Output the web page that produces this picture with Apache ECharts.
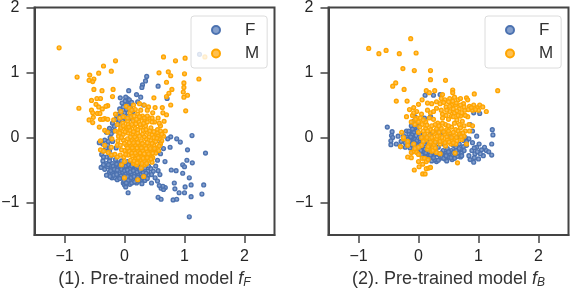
<!DOCTYPE html>
<html><head><meta charset="utf-8">
<script src="https://cdn.jsdelivr.net/npm/echarts@6/dist/echarts.min.js"></script>
<style>html,body{margin:0;padding:0;background:#fff}#c{width:570px;height:290px}</style>
</head><body><div id="c"></div>
<script>
const categories = ['F','M'];
const xTicks = [-1,0,1,2];
const yTicks = [-1,0,1,2];
const titleLeft = '(1). Pre-trained model ';
const titleRight = '(2). Pre-trained model ';

const panel1F = [[0.37,0.94],[0.35,0.87],[0.3,0.81],[0.29,0.77],[0.56,0.79],[0.07,0.72],[0.2,0.66],[-0.07,0.61],[0.05,0.6],[0.02,0.62],[0.08,0.58],[0.27,0.62],[0.71,0.6],[1.25,1.28],[0.22,0.55],[0.32,0.5],[0.04,0.52],[-0.02,0.47],[0.1,0.46],[-0.06,0.4],[-0.1,0.36],[0.0,0.38],[0.14,0.4],[0.06,0.33],[-0.14,0.28],[-0.03,0.3],[0.12,0.29],[-0.2,0.22],[-0.11,0.2],[-0.25,0.14],[-0.18,0.1],[-0.3,0.08],[-0.24,0.0],[-0.33,-0.04],[-0.42,-0.08],[-0.36,-0.1],[-0.28,-0.12],[-0.2,-0.06],[-0.14,-0.16],[-0.25,-0.2],[-0.34,-0.2],[-0.38,-0.26],[-0.3,-0.3],[-0.21,-0.27],[0.01,0.56],[0.06,0.5],[-0.04,0.53],[0.12,0.54],[-0.08,0.44],[0.03,0.43],[0.09,0.41],[-0.13,0.33],[-0.05,0.35],[0.02,0.28],[-0.17,0.17],[-0.09,0.26],[-0.22,0.06],[-0.27,-0.06],[-0.31,-0.16],[-0.24,-0.31],
[1.125,0.03],[0.77,0.01],[0.72,-0.02],[0.87,-0.02],[0.93,-0.07],[0.6,-0.09],[0.65,-0.17],[0.76,-0.15],[1.05,-0.19],[1.35,-0.24],[0.675,-0.37],[1.04,-0.35],[0.97,-0.42],[1.13,-0.39],[1.0,-0.45],[0.78,-0.5],[0.86,-0.51],[0.97,-0.55],[1.08,-0.62],[0.56,-0.51],[0.59,-0.57],[0.83,-0.7],[1.11,-0.73],[1.32,-0.73],[1.01,-0.76],[0.84,-0.79],[0.91,-0.85],[1.0,-0.85],[1.29,-0.87],[1.11,-0.91],[0.68,-0.77],[0.61,-0.78],[0.65,-0.8],[0.56,-0.92],[0.61,-0.95],[0.81,-0.96],[0.87,-0.95],[1.08,-1.22],[0.06,-0.85],[0.51,-0.62],[0.45,-0.7],[0.55,-0.67],[0.64,-0.75],[0.58,-0.74],
[-0.39,-0.46],[-0.33,-0.49],[-0.36,-0.36],[-0.3,-0.4],[-0.25,-0.36],[-0.2,-0.4],[-0.15,-0.34],[-0.1,-0.39],[-0.05,-0.36],[0.0,-0.4],[0.05,-0.37],[0.1,-0.41],[0.15,-0.38],[0.2,-0.42],[0.25,-0.4],[0.3,-0.43],[0.35,-0.39],[0.4,-0.44],[0.44,-0.48],[0.48,-0.52],[-0.28,-0.45],[-0.22,-0.48],[-0.16,-0.44],[-0.11,-0.47],[-0.06,-0.43],[-0.01,-0.47],[0.04,-0.44],[0.09,-0.48],[0.14,-0.45],[0.19,-0.49],[0.24,-0.46],[0.29,-0.5],[0.34,-0.47],[0.39,-0.52],[-0.25,-0.53],[-0.2,-0.55],[-0.14,-0.52],[-0.08,-0.56],[-0.03,-0.53],[0.02,-0.57],[0.07,-0.54],[0.12,-0.58],[0.17,-0.55],[0.23,-0.58],[0.28,-0.56],[0.33,-0.59],[0.4,-0.58],[0.45,-0.57],[-0.21,-0.62],[-0.16,-0.62],[-0.1,-0.6],[-0.12,-0.65],[-0.03,-0.62],[0.03,-0.64],[0.09,-0.61],[0.14,-0.65],[0.2,-0.63],[0.27,-0.65],[0.34,-0.66],[0.38,-0.63],[-0.02,-0.7],[0.0,-0.73],[0.05,-0.69],[0.09,-0.72],[0.02,-0.76],[0.12,-0.7],[0.2,-0.7],[0.29,-0.71],[-0.3,-0.58],[-0.35,-0.3],[0.3,-0.3],[0.45,-0.3],[0.5,-0.2],[0.55,-0.35],[0.52,-0.44],[0.6,-0.25],
[-0.27,-0.42],[-0.19,-0.44],[-0.13,-0.41],[-0.08,-0.44],[-0.03,-0.41],[0.02,-0.44],[0.07,-0.42],[0.12,-0.44],[0.17,-0.42],[0.22,-0.45],[0.27,-0.43],[-0.23,-0.51],[-0.17,-0.49],[-0.12,-0.5],[-0.05,-0.49],[0.0,-0.51],[0.05,-0.5],[0.1,-0.53],[0.15,-0.51],[0.21,-0.53],[0.26,-0.51],[0.31,-0.54],[0.36,-0.55],[-0.18,-0.58],[-0.13,-0.57],[-0.06,-0.59],[0.0,-0.6],[0.05,-0.6],[0.11,-0.62],[0.16,-0.6],[0.22,-0.61],[0.3,-0.62],[-0.08,-0.63],[-0.01,-0.66],[0.06,-0.66],[0.17,-0.68],[0.24,-0.67],[0.03,-0.7],[-0.35,-0.42],[-0.24,-0.6]];

const panel1M = [[-1.09,1.38],[-0.15,1.18],[-0.35,1.1],[-0.58,0.96],[-0.43,0.99],[-0.22,1.02],[-0.79,0.93],[-0.59,0.88],[-0.51,0.9],[-0.53,0.86],[-0.51,0.74],[-0.375,0.72],[-0.19,0.74],[-0.2,0.63],[-0.55,0.57],[-0.46,0.6],[-0.4,0.6],[-0.76,0.45],[-0.475,0.51],[-0.43,0.47],[-0.37,0.44],[-0.28,0.49],[-0.31,0.48],[-0.55,0.42],[-0.53,0.38],[-0.59,0.27],[-0.52,0.31],[-0.53,0.23],[-0.45,0.37],[-0.41,0.37],[-0.4,0.28],[-0.33,0.29],[-0.28,0.28],[-0.42,0.16],[-0.33,0.11],[-0.28,0.08],[-0.21,-0.02],[-0.36,0.28],
[0.65,1.24],[0.85,1.18],[1.01,1.22],[1.34,1.24],[0.575,0.995],[0.73,1.01],[0.77,0.95],[1.0,0.98],[1.24,0.9],[0.99,0.84],[0.7,0.85],[0.99,0.77],[0.98,0.7],[0.79,0.74],[0.74,0.68],[0.7,0.63],[1.05,0.65],[0.99,0.62],[0.77,0.5],[1.02,0.41],[0.49,0.61],[0.25,0.52],[0.33,0.5],[0.4,0.47],[0.51,0.46],[0.38,0.42],[0.63,0.46],[0.64,0.38],[0.7,0.35],[0.47,0.38],[0.15,0.5],[0.03,0.48],[0.08,0.45],[0.18,0.43],[-0.06,0.4],[-0.15,0.36],[-0.18,0.27],[-0.08,0.3],[-0.02,0.32],[0.09,0.38],[0.22,0.36],[0.3,0.33],[0.56,0.3],[0.66,0.25],[0.6,0.18],[0.68,0.1],[0.65,0.02],[0.62,-0.05],[-0.12,0.2],[-0.03,0.22],[0.05,0.25],[0.14,0.26],[0.24,0.24],[0.34,0.26],[0.42,0.3],[0.5,0.24],[0.55,0.12],[-0.15,0.1],[-0.07,0.12],[0.02,0.15],[0.1,0.17],[0.18,0.14],[0.27,0.16],[0.35,0.18],[0.44,0.15],[0.52,0.05],[-0.1,0.02],[-0.02,0.05],[0.06,0.07],[0.14,0.04],[0.22,0.07],[0.3,0.05],[0.38,0.08],[0.46,0.04],[0.58,-0.02],[-0.02,-0.04],[0.05,-0.02],[0.12,-0.05],[0.2,-0.02],[0.28,-0.05],[0.36,-0.02],[0.44,-0.05],[0.52,-0.06],[0.6,-0.1],[0.03,-0.12],[0.1,-0.14],[0.18,-0.11],[0.25,-0.14],[0.33,-0.12],[0.41,-0.14],[0.49,-0.12],[0.55,-0.16],[0.0,-0.2],[0.08,-0.21],[0.15,-0.19],[0.23,-0.22],[0.3,-0.2],[0.38,-0.22],[0.45,-0.2],[0.52,-0.24],[0.13,-0.28],[0.2,-0.27],[0.28,-0.28],[0.35,-0.3],[0.42,-0.27],[0.47,-0.31],[0.18,-0.33],[0.26,-0.35],[0.33,-0.36],[0.41,-0.35],[0.46,-0.38],[0.15,-0.4],
[-0.4,-0.05],[-0.33,-0.12],[-0.22,-0.15],[-0.12,-0.12],[-0.27,-0.23],[-0.22,-0.27],[-0.4,-0.19],[-0.35,-0.21],[-0.16,-0.26],[-0.07,-0.27],[-0.01,-0.3],[-0.12,-0.3],[0.06,-0.27],[0.1,-0.35],[0.0,-0.62],[0.22,-0.65],[0.32,-0.6],[0.28,-0.47],[0.2,-0.42],[0.23,-0.38],[0.34,-0.42],[0.28,-0.3],[-0.05,-0.42],[0.0,-0.37],
[0.06,0.2],[0.12,0.2],[0.19,0.21],[0.26,0.2],[0.32,0.22],[0.38,0.24],[0.46,0.24],[0.04,0.12],[0.09,0.11],[0.15,0.09],[0.22,0.12],[0.31,0.11],[0.36,0.12],[0.42,0.1],[0.49,0.09],[0.55,0.07],[0.01,0.09],[0.1,0.01],[0.17,0.01],[0.25,0.02],[0.33,0.01],[0.41,0.01],[0.49,0.0],[0.56,0.02],[0.08,-0.08],[0.15,-0.08],[0.22,-0.08],[0.3,-0.09],[0.38,-0.08],[0.46,-0.09],[0.54,-0.01],[0.05,-0.16],[0.13,-0.16],[0.21,-0.16],[0.28,-0.16],[0.36,-0.17],[0.43,-0.17],[0.5,-0.17],[0.12,-0.24],[0.18,-0.24],[0.26,-0.24],[0.33,-0.25],[0.4,-0.25],[0.47,-0.24],[0.23,-0.31],[0.31,-0.32],[0.38,-0.31],[0.44,-0.33],[0.16,-0.36],[0.21,-0.39],[0.29,-0.4],[0.37,-0.4],[-0.06,0.15],[-0.02,0.18],[-0.1,0.08],[-0.05,0.0],[0.0,-0.09],[0.07,0.16],[0.2,0.28],[0.28,0.3],[0.38,0.33],[0.46,0.3],
[0.11,0.32],[0.16,0.33],[0.25,0.32],[0.33,0.3],[0.05,0.3],[0.12,0.42],[0.27,0.42],[0.58,0.22],[0.6,0.1],[0.62,0.05],[0.58,-0.13],[0.57,-0.2],[-0.08,0.07],[-0.11,-0.05],[-0.07,-0.12],[-0.05,-0.19],[0.02,-0.26]];

const panel2F = [[-0.52,0.16],[-0.44,0.09],[-0.45,0.03],[-0.25,0.03],[1.23,0.12],[0.11,0.65],[0.25,0.65],[0.36,0.66],[-0.06,0.32],[-0.08,0.25],[-0.12,0.18],[0.0,0.2],[0.1,0.3],[0.2,0.32],[0.92,0.38],[1.02,0.37],[0.86,0.2],[0.9,0.1],
[-0.46,-0.11],[-0.43,0.0],[-0.46,-0.05],[-0.37,-0.1],[-0.29,-0.06],[-0.34,0.02],[-0.3,-0.14],[-0.2,0.1],[-0.16,0.05],[-0.12,0.1],[-0.08,0.08],[-0.03,0.12],[-0.19,0.0],[-0.14,-0.02],[-0.09,0.0],[-0.04,0.03],[0.02,0.05],[-0.22,-0.08],[-0.16,-0.09],[-0.1,-0.07],[-0.05,-0.09],[0.01,-0.07],[-0.22,-0.15],[-0.14,-0.16],[-0.07,-0.14],[-0.01,-0.17],[0.06,-0.14],[-0.1,-0.22],[0.0,-0.24],[0.09,-0.22],[0.15,-0.26],[0.08,-0.3],[0.19,-0.31],[0.26,-0.28],[0.3,-0.37],[0.22,-0.36],[0.36,-0.32],[0.44,-0.33],[0.4,-0.27],[0.5,-0.3],[0.56,-0.34],[0.52,-0.25],[0.6,-0.28],[0.66,-0.24],[0.7,-0.3],[0.72,-0.18],[0.78,0.0],[0.76,-0.05],[0.8,-0.12],[0.9,-0.08],[0.97,0.02],[1.24,0.04],[0.84,-0.02],
[0.86,-0.34],[0.92,-0.38],[1.0,-0.33],[0.94,-0.25],[0.89,-0.2],[0.97,-0.15],[1.01,-0.1],[1.1,-0.15],[1.13,-0.2],[1.17,-0.22],[1.22,-0.27],[1.22,-0.1],[1.08,-0.28],[0.93,-0.31],[1.03,-0.25],[0.84,-0.28],[0.98,-0.22],[0.93,-0.16],[1.05,-0.19],
[0.1,-0.1],[0.18,-0.12],[0.25,-0.18],[0.33,-0.15],[0.41,-0.2],[0.48,-0.17],[0.55,-0.2],[0.62,-0.15],[0.68,-0.1],[0.22,-0.24],[0.31,-0.25],[0.39,-0.3],[0.47,-0.24],[0.56,-0.27],[0.63,-0.2],[0.72,-0.24],[0.1,0.02],[0.2,0.05],[0.3,0.1],[0.4,0.08],[0.52,0.02],[0.64,0.0],[0.7,0.05],[0.75,-0.14],[0.14,-0.06],[0.28,-0.08],[0.42,-0.1],[0.58,-0.12],
[-0.06,0.15],[-0.02,0.17],[-0.15,-0.05],[-0.06,-0.03],[-0.11,0.04],[0.04,-0.1],[0.04,-0.2],[0.11,-0.18],[0.17,-0.22],[0.13,-0.31],[0.27,-0.34],[0.34,-0.26],[0.44,-0.28],[0.5,-0.22],[0.58,-0.23],[0.65,-0.29],[0.72,-0.28],[0.76,-0.2],[0.68,-0.17],[0.6,-0.32],[0.47,-0.36],[0.2,-0.27],[0.8,-0.06],[0.05,-0.27],
[0.25,-0.31],[0.33,-0.35],[0.42,-0.32],[0.54,-0.31],[0.62,-0.25],[0.46,-0.28],[0.38,-0.24],[0.29,-0.22],[0.2,-0.18],[0.12,-0.24],[-0.18,-0.03],[-0.13,0.01],[-0.03,-0.05],[-0.07,-0.08],[-0.12,-0.11],[-0.18,-0.12],[0.03,-0.02],[0.08,-0.05],[-0.1,0.13],[-0.16,0.1]];

const panel2M = [[-0.83,1.37],[-0.66,1.29],[-0.54,1.34],[-0.32,1.29],[-0.13,1.52],[-0.04,1.3],[-0.26,1.06],[-0.07,1.03],[0.2,1.03],[0.2,0.89],[0.45,0.88],[-0.38,0.84],[-0.43,0.79],[-0.24,0.74],[-0.37,0.56],[-0.19,0.56],[0.0,0.51],[0.06,0.58],[0.13,0.72],[0.18,0.69],[0.27,0.72],[0.57,0.73],[0.57,0.69],[0.93,0.67],[1.32,0.72],[1.13,0.4],[0.8,0.61],[0.82,0.58],[0.4,0.66],[0.38,0.6],[0.15,0.53],[0.22,0.52],[0.3,0.55],[0.36,0.52],[0.44,0.58],[0.52,0.6],[0.6,0.62],[0.66,0.58],[0.7,0.6],[0.75,0.52],[0.85,0.48],[0.92,0.5],[0.98,0.46],[1.02,0.5],[1.07,0.47],[0.9,0.42],[1.0,0.42],[0.62,0.5],[0.55,0.5],[0.46,0.47],[0.68,0.44],[0.77,0.42],[0.38,0.42],[0.3,0.45],[0.2,0.38],[0.52,0.4],[0.6,0.38],[0.7,0.33],[0.82,0.32],[0.55,0.33],[0.64,0.27],[0.73,0.25],[0.84,0.2],[0.9,0.18],[0.85,0.1],
[-0.15,0.43],[-0.08,0.46],[-0.2,0.32],[-0.03,0.4],[0.05,0.36],[0.15,0.42],[-0.1,0.34],[-0.02,0.3],[0.03,0.3],[-0.12,0.24],[-0.06,0.2],[0.0,0.24],[0.12,0.24],[0.18,0.3],[0.25,0.28],[0.32,0.22],[0.4,0.3],[0.45,0.2],[0.28,0.2],[0.4,0.22],[0.12,0.14],[0.2,0.12],[0.3,0.13],[0.38,0.14],[0.47,0.12],[0.55,0.16],[0.62,0.12],[0.7,0.15],[0.78,0.1],[0.1,0.05],[0.18,0.03],[0.27,0.06],[0.35,0.02],[0.44,0.05],[0.52,0.07],[0.6,0.03],[0.68,0.06],[0.76,0.02],[0.12,-0.03],[0.22,-0.04],[0.3,-0.02],[0.4,-0.05],[0.48,-0.03],[0.56,-0.04],[0.64,-0.05],[0.72,-0.03],[0.18,-0.1],[0.26,-0.12],[0.36,-0.1],[0.45,-0.13],[0.54,-0.1],[0.62,-0.1],[0.25,0.4],[0.4,0.36],
[-0.25,-0.02],[-0.18,-0.06],[-0.18,-0.12],[-0.08,-0.1],[-0.18,-0.3],[-0.12,-0.31],[-0.12,-0.23],[-0.07,-0.21],[-0.03,-0.23],[0.0,-0.26],[0.06,-0.32],[0.1,-0.32],[0.0,-0.37],[0.13,-0.37],[0.16,-0.34],[0.07,-0.41],[0.01,-0.45],[-0.07,-0.5],[0.13,-0.48],[0.17,-0.47],[0.2,-0.46],[0.07,-0.56],[0.11,-0.56],[0.65,-0.39],[0.05,-0.12],[0.15,-0.18],[0.22,-0.21],[0.3,-0.23],[0.36,-0.25],[0.24,-0.16],[0.8,-0.1],[0.61,-0.24],[-0.25,0.0],[-0.3,-0.14],[-0.28,0.08],[0.0,-0.15],[-0.06,-0.17],
[0.52,0.48],[0.58,0.44],[0.64,0.41],[0.47,0.42],[0.42,0.54],[0.5,0.55],[0.57,0.56],[0.63,0.53],[0.7,0.5],[0.76,0.47],[0.83,0.43],[0.88,0.46],[0.95,0.43],[0.58,0.32],[0.66,0.34],[0.72,0.38],[0.78,0.34],[0.46,0.34],[0.5,0.28],[0.6,0.22],[0.68,0.2],[0.76,0.18],[0.06,0.2],[0.14,0.19],[0.22,0.18],[0.34,0.18],[0.5,0.18],[0.15,0.1],[0.24,0.09],[0.34,0.08],[0.42,0.09],[0.5,0.1],[0.58,0.08],[0.66,0.1],[0.74,0.07],[0.14,0.0],[0.22,0.0],[0.31,0.02],[0.39,0.0],[0.47,0.01],[0.55,0.0],[0.63,0.0],[0.71,0.01],[0.2,-0.07],[0.28,-0.07],[0.36,-0.06],[0.44,-0.08],[0.51,-0.07],[0.58,-0.08],[0.24,-0.2],[0.28,-0.16],[0.16,-0.14],[0.08,0.1],[0.02,0.16],[0.0,0.08],[0.05,0.0],[-0.05,0.28],[0.08,0.27],[-0.08,0.38],[0.08,-0.06]];

const fontFam = 'Liberation Sans, Arial, sans-serif';
const fmt = v => String(v).replace('-', '\u2212');
function axisBase(min, max, ticks, margin) {
  return { type:'value', min, max, interval:0.5, splitLine:{show:false},
    axisLine:{show:true, onZero:false, lineStyle:{color:'#444', width:2}},
    axisTick:{show:true, customValues:ticks, length:8, lineStyle:{color:'#444', width:1.5}},
    axisLabel:{customValues:ticks, formatter:fmt, color:'#262626', fontSize:16, fontFamily:fontFam, margin} };
}
function nameRich() {
  return { n:{fontSize:18, fontFamily:fontFam, color:'#333'},
    i:{fontStyle:'italic', fontSize:18, fontFamily:fontFam, color:'#333'},
    s:{fontStyle:'italic', fontSize:12, fontFamily:fontFam, color:'#333', padding:[7,0,0,0]} };
}
function legend(left) {
  return { left, top:16, orient:'vertical', data:categories, icon:'circle', itemWidth:8, itemHeight:8, itemGap:6.5,
    padding:[5.5,8,6,20], backgroundColor:'rgba(255,255,255,0.8)', borderColor:'#dcdcdc', borderWidth:1, borderRadius:3,
    selectedMode:false, textStyle:{color:'#333', fontSize:17, fontFamily:fontFam, padding:[0,0,0,20]} };
}
function scatter(name, data, i, color) {
  return { name, type:'scatter', xAxisIndex:i, yAxisIndex:i, data, symbolSize:3.8, animation:false,
    itemStyle:{color:color.fill, borderColor:color.edge, borderWidth:1.4, opacity:1} };
}
const blue = {edge:'#4c72b0', fill:'rgba(120,150,200,0.9)'};
const orange = {edge:'#ffa500', fill:'rgba(255,185,60,0.9)'};
const chart = echarts.init(document.getElementById('c'), null, {renderer:'canvas'});
chart.setOption({
  animation:false,
  backgroundColor:'#fff',
  legend:[legend(191), legend(485)],
  grid:[
    {left:34.5, top:7.5, width:240, height:227.5, show:true, outerBoundsMode:'none', borderColor:'#444', borderWidth:2, backgroundColor:'transparent'},
    {left:328.5, top:7.5, width:240, height:227.5, show:true, outerBoundsMode:'none', borderColor:'#444', borderWidth:2, backgroundColor:'transparent'}
  ],
  xAxis:[
    Object.assign(axisBase(-1.5,2.5,xTicks,14), {gridIndex:0, name:'{n|'+titleLeft+'}{i|f}{s|F}', nameLocation:'middle', nameGap:33, nameTextStyle:{color:'#333', fontSize:18, fontFamily:fontFam, rich:nameRich()}}),
    Object.assign(axisBase(-1.5,2.5,xTicks,14), {gridIndex:1, name:'{n|'+titleRight+'}{i|f}{s|B}', nameLocation:'middle', nameGap:33, nameTextStyle:{color:'#333', fontSize:18, fontFamily:fontFam, rich:nameRich()}})
  ],
  yAxis:[
    Object.assign(axisBase(-1.5,2,yTicks,15), {gridIndex:0}),
    Object.assign(axisBase(-1.5,2,yTicks,15), {gridIndex:1})
  ],
  series:[
    scatter('F', panel1F, 0, blue), scatter('M', panel1M, 0, orange),
    scatter('F', panel2F, 1, blue), scatter('M', panel2M, 1, orange)
  ]
});
</script></body></html>
